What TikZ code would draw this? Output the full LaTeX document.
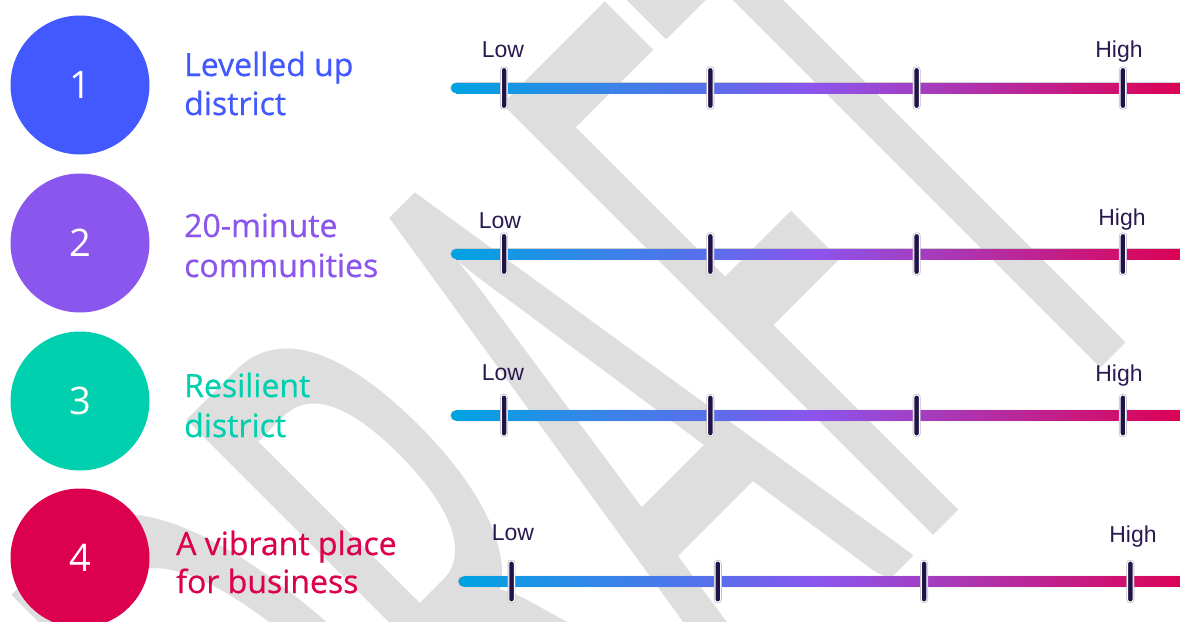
\documentclass[tikz,border=0pt]{standalone}
\usepackage{fontspec}
\setmainfont{Liberation Sans}
\newfontfamily\labfont[FakeBold=0.6]{Open Sans}
\newfontfamily\digfont{Open Sans}
\newfontfamily\wmfont{Carlito}
\definecolor{cone}{HTML}{4259FF}
\definecolor{ctwo}{HTML}{8B56EE}
\definecolor{cthree}{HTML}{00D0AE}
\definecolor{cfour}{HTML}{DC004E}
\definecolor{wmgrey}{HTML}{DEDEDE}
\definecolor{tickc}{HTML}{22124C}
\definecolor{lowc}{HTML}{2A1A50}
\definecolor{ga}{HTML}{00A3E2}
\definecolor{gb}{HTML}{3188E8}
\definecolor{gc}{HTML}{5A6EEB}
\definecolor{gd}{HTML}{8B55EE}
\definecolor{ge}{HTML}{A23FC3}
\definecolor{gf}{HTML}{D20E6C}
\definecolor{gg}{HTML}{DC0050}
\tikzset{
  numcircle/.style={circle, minimum size=139pt, inner sep=0pt, text=white, font=\digfont\fontsize{38}{38}\selectfont},
  labtext/.style={anchor=base west, inner sep=0pt, font=\labfont\fontsize{32}{38}\selectfont},
  scaletext/.style={anchor=base, inner sep=0pt, text=lowc, font=\fontsize{23}{23}\selectfont},
  tickmark/.style={rectangle, rounded corners=2.5pt, minimum width=5.5pt, minimum height=41pt, inner sep=0pt,
    fill=tickc, draw=white, line width=1pt, preaction={draw=black!25, line width=2.4pt}},
}
\newcommand\gradbar[2]{% #1 = x offset, #2 = y
  \fill[black!28, rounded corners=5.6pt] ({450.4+#1},{#2-5.6}) rectangle (1190,{#2+5.6});
  \fill[ga] ({456+#1},#2) circle (5);
  \shade[left color=ga, right color=gb] ({456+#1},{#2-5}) rectangle ({580+#1},{#2+5});
  \shade[left color=gb, right color=gc] ({580+#1},{#2-5}) rectangle ({710+#1},{#2+5});
  \shade[left color=gc, right color=gd] ({710+#1},{#2-5}) rectangle ({811+#1},{#2+5});
  \shade[left color=gd, right color=ge] ({811+#1},{#2-5}) rectangle ({916+#1},{#2+5});
  \shade[left color=ge, right color=gf] ({916+#1},{#2-5}) rectangle ({1123+#1},{#2+5});
  \shade[left color=gf, right color=gg] ({1123+#1},{#2-5}) rectangle ({1190+#1},{#2+5});
}
\begin{document}
\begin{tikzpicture}[x=1pt,y=-1pt]
\useasboundingbox (0,0) rectangle (1180,621);
\fill[white] (0,0) rectangle (1180,621);
% watermark
\begin{scope}
  \clip (0,0) rectangle (1180,621);
  \begin{scope}[shift={(803,666)}, rotate=45, xscale=4, yscale=9.5]
    \node[transform shape, anchor=base, inner sep=0pt, text=wmgrey,
      font=\wmfont\fontsize{100}{100}\selectfont] (wm) at (0,0) {DRAFT};
  \end{scope}
\end{scope}
% circles
\node[numcircle, fill=cone]   (n1) at (80,85)  {1};
\node[numcircle, fill=ctwo]   (n2) at (80,243) {2};
\node[numcircle, fill=cthree] (n3) at (80,401) {3};
\node[numcircle, fill=cfour]  (n4) at (80,558) {4};
% labels
\node[labtext, text=cone]   (l1a) at (184,76)  {Levelled up};
\node[labtext, text=cone]   (l1b) at (184,115) {district};
\node[labtext, text=ctwo]   (l2a) at (184,237) {20-minute};
\node[labtext, text=ctwo]   (l2b) at (184,277) {communities};
\node[labtext, text=cthree] (l3a) at (184,397) {Resilient};
\node[labtext, text=cthree] (l3b) at (184,437) {district};
\node[labtext, text=cfour]  (l4a) at (176,555) {A vibrant place};
\node[labtext, text=cfour]  (l4b) at (176,593) {for business};
% bars
\gradbar{0}{88}
\gradbar{0}{254}
\gradbar{0}{415.5}
\gradbar{7.5}{581.5}
% ticks
\foreach \r/\y/\dx in {1/88/0, 2/254/0, 3/415.5/0, 4/581.5/7.5}{
  \foreach \k in {0,1,2,3}{
    \node[tickmark] (t\r\k) at ({504+206.3*\k+\dx},\y) {};
  }
}
% low / high
\node[scaletext] (low1) at (503,57) {Low};
\node[scaletext] (high1) at (1119,57) {High};
\node[scaletext] (low2) at (500,228) {Low};
\node[scaletext] (high2) at (1122,225) {High};
\node[scaletext] (low3) at (503,380) {Low};
\node[scaletext] (high3) at (1119,381) {High};
\node[scaletext] (low4) at (513,540) {Low};
\node[scaletext] (high4) at (1133,542) {High};
\end{tikzpicture}
\end{document}
